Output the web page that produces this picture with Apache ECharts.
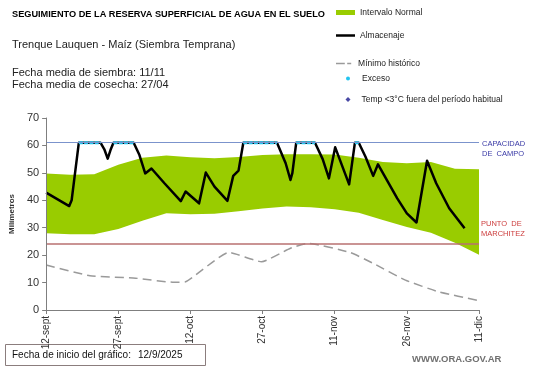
<!DOCTYPE html>
<html><head><meta charset="utf-8">
<script src="https://cdn.jsdelivr.net/npm/echarts@6/dist/echarts.min.js"></script>
<style>html,body{margin:0;padding:0;background:#fff}#c{width:541px;height:368px}</style>
</head><body><div id="c"></div>
<script>
// ---- data ----
const tickLabels = ['12-sept','27-sept','12-oct','27-oct','11-nov','26-nov','11-dic'];
const bandDays  = [0,5,10,15,20,25,30,35,40,45,50,55,60,65,70,75,80,85,90];
const bandUpper = [49.8,49.3,49.5,53,55.5,56.3,55.7,55.3,55.8,56.5,56.8,56.8,56.7,55.5,54,53.5,54,51.5,51.3];
const bandLower = [28,27.6,27.6,29.5,32.5,35.3,34.9,35.1,36,37,37.7,37.5,36.7,35.5,32.8,30.3,28.2,24.5,20.1];
const almDays   = [0,4.8,5.3,6.8,11.3,12.1,12.8,13.4,14,18.2,19.4,20.6,21.9,24.6,28,29,31.8,33.2,35,37.7,38.9,40,41,48,49.8,50.8,51.2,52,55.9,57.5,58.8,60.1,63,64.2,65,66.4,68,69,73,75,77,79.2,81.1,83.8,87];
const almValues = [42.8,37.9,40,61,61,58.6,55.2,58.4,61,61,56.5,49.8,51.6,46.2,39.7,43.2,38.9,50.1,45,39.8,48.9,50.8,61,61,53.5,47.4,50,61,61,55,48,59.3,45.8,61,61,55.9,48.9,53.1,40.7,35.2,31.9,54.4,46.2,37.1,29.8];
const minDays   = [0,9.1,18.6,26.6,29,38,44.8,50.8,54.5,63.3,68,74.7,81.5,90];
const minValues = [16.4,12.5,11.6,10.1,10.3,21,17.6,22.5,24.3,20.9,17,10.9,6.7,3.4];
const excesoStart = [6.8,14,41,52,64.2];
const excesoEnd   = [11.3,18.2,48,55.9,65];
const excesoLevel = 61;
const capacidad = 61;
const marchitez = 24;

// ---- build ----
const upperData = bandDays.map((d,i)=>[d,bandUpper[i]]);
const lowerData = bandDays.map((d,i)=>[d,bandLower[i]]);
const almData = almDays.map((d,i)=>[d,almValues[i]]);
const minData = minDays.map((d,i)=>[d,minValues[i]]);
const excData = [];
excesoStart.forEach((s,i)=>{ excData.push([s,excesoLevel],[excesoEnd[i],excesoLevel],[excesoEnd[i],'-']); });

const FF = 'Liberation Sans, Arial, sans-serif';
const legendBase = {orient:'vertical', padding:0, itemGap:0, selectedMode:false,
  textStyle:{fontFamily:FF,fontSize:8.5,color:'#222'}};

const chart = echarts.init(document.getElementById('c'), null, {renderer:'canvas'});
chart.setOption({
  animation:false,
  grid:{left:33,right:62,top:118,bottom:58,containLabel:false},
  xAxis:{type:'value',min:0,max:90,interval:15,z:5,
    axisLine:{show:true,lineStyle:{color:'#7f7f7f',width:1}},
    axisTick:{show:true,length:4,lineStyle:{color:'#7f7f7f'}},
    splitLine:{show:false},
    axisLabel:{rotate:90,fontFamily:FF,fontSize:10,color:'#333',margin:6,
      formatter:v=>tickLabels[Math.round(v/15)]||''}},
  yAxis:{type:'value',min:0,max:70,interval:10,z:5,
    name:'Milímetros',nameLocation:'middle',nameGap:29,nameRotate:90,
    nameTextStyle:{fontFamily:FF,fontSize:8,fontWeight:'bold',color:'#333'},
    axisLine:{show:true,lineStyle:{color:'#7f7f7f',width:1}},
    axisTick:{show:true,length:4,lineStyle:{color:'#7f7f7f'}},
    splitLine:{show:false},
    axisLabel:{fontFamily:FF,fontSize:11,color:'#333',margin:7}},
  legend:[
    Object.assign({},legendBase,{left:336,top:8,itemWidth:19,itemHeight:5,
      data:[{name:'Intervalo Normal',icon:'rect'}]}),
    Object.assign({},legendBase,{left:336,top:31,itemWidth:19,itemHeight:2.5,
      data:[{name:'Almacenaje',icon:'rect'}]}),
    Object.assign({},legendBase,{left:336,top:59,itemWidth:19,itemHeight:1.6,
      data:[{name:'Mínimo histórico',icon:'path://M0,0h11v2h-11z M14,0h5v2h-5z'}]}),
    Object.assign({},legendBase,{left:346,top:74,itemWidth:4,itemHeight:4,
      textStyle:Object.assign({},legendBase.textStyle,{padding:[0,0,0,7]}),
      data:[{name:'Exceso',icon:'circle'}]}),
    Object.assign({},legendBase,{left:345.5,top:95,itemWidth:5,itemHeight:5,
      textStyle:Object.assign({},legendBase.textStyle,{padding:[0,0,0,6]}),
      data:[{name:'Temp <3°C fuera del período habitual',icon:'diamond'}]})
  ],
  series:[
    {name:'Intervalo Normal',type:'line',data:upperData,symbol:'none',z:1,
      color:'#99cc00',itemStyle:{color:'#99cc00'},
      lineStyle:{width:0,opacity:0},areaStyle:{color:'#99cc00',opacity:1},silent:true},
    {name:'lowerMask',type:'line',data:lowerData,symbol:'none',z:1,
      lineStyle:{width:0,opacity:0},areaStyle:{color:'#ffffff',opacity:1},silent:true},
    {name:'Mínimo histórico',type:'line',data:minData,symbol:'none',smooth:0.15,
      color:'#9a9a9a',lineStyle:{color:'#9a9a9a',width:1.5,type:[9,5]},
      markLine:{silent:true,symbol:['none','none'],animation:false,
        data:[
          {yAxis:capacidad,lineStyle:{color:'#7b93cc',width:1,type:'solid'},
            label:{show:true,position:'end',formatter:'CAPACIDAD\nDE  CAMPO',color:'#3a3aa6',
              fontFamily:FF,fontSize:7.5,lineHeight:10,align:'left',distance:3,offset:[0,6]}},
          {yAxis:marchitez,lineStyle:{color:'#b87070',width:1.5,type:'solid'},
            label:{show:true,position:'end',formatter:'PUNTO  DE\nMARCHITEZ',color:'#cc3c3c',
              fontFamily:FF,fontSize:7.5,lineHeight:10,align:'left',distance:2,offset:[0,-15]}}
        ]}},
    {name:'Almacenaje',type:'line',data:almData,symbol:'none',smooth:false,
      color:'#000',itemStyle:{color:'#000'},lineStyle:{color:'#000',width:2.5,join:'round'}},
    {name:'Exceso',type:'line',data:excData,symbol:'none',connectNulls:false,z:4,
      color:'#22c4f0',itemStyle:{color:'#22c4f0'},
      lineStyle:{color:'#22c4f0',width:3,type:[4,1.3]}},
    {name:'Temp <3°C fuera del período habitual',type:'scatter',data:[],
      symbol:'diamond',color:'#1c1c8f',itemStyle:{color:'#1c1c8f'}}
  ],
  graphic:[
    {type:'text',left:12,top:10,style:{text:'SEGUIMIENTO DE LA RESERVA SUPERFICIAL DE AGUA EN EL SUELO',
      font:'bold 9.2px '+FF,fill:'#000'}},
    {type:'text',left:12,top:39,style:{text:'Trenque Lauquen - Maíz (Siembra Temprana)',
      font:'11px '+FF,fill:'#222'}},
    {type:'text',left:12,top:66.5,style:{text:'Fecha media de siembra: 11/11\nFecha media de cosecha: 27/04',
      font:'11px '+FF,fill:'#222',lineHeight:12.5}},
    {type:'rect',shape:{x:5.5,y:344.5,width:200,height:21},style:{fill:'#fff',stroke:'#8b7d7d',lineWidth:1}},
    {type:'text',left:12,top:350.5,style:{text:'Fecha de inicio del gráfico:',font:'10px '+FF,fill:'#111'}},
    {type:'text',left:138,top:350.5,style:{text:'12/9/2025',font:'10px '+FF,fill:'#111'}},
    {type:'text',left:412,top:354.5,style:{text:'WWW.ORA.GOV.AR',font:'bold 9.5px '+FF,fill:'#707070'}}
  ]
});
</script></body></html>
